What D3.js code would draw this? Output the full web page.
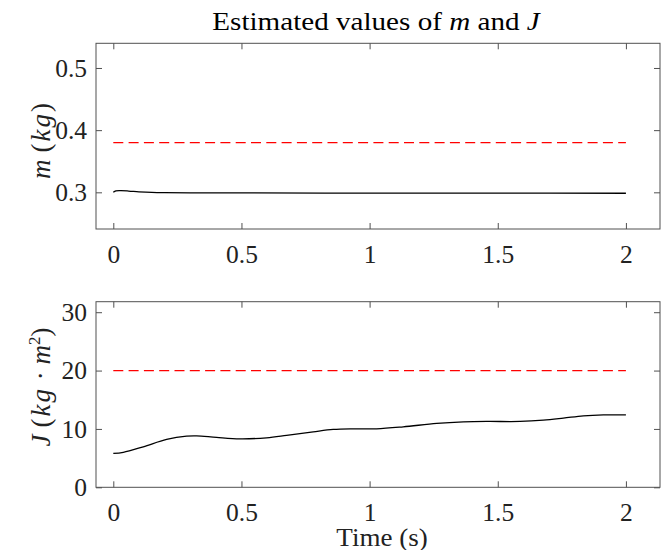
<!DOCTYPE html>
<html><head><meta charset="utf-8">
<script src="https://cdn.jsdelivr.net/npm/d3@7"></script>
<style>body{margin:0;background:#fff}svg{display:block}</style>
</head><body>
<script>
const xTicks = [0, 0.5, 1, 1.5, 2];
const xTickLabels = ["0", "0.5", "1", "1.5", "2"];
const mTicks = [0.3, 0.4, 0.5];
const mTickLabels = ["0.3", "0.4", "0.5"];
const jTicks = [0, 10, 20, 30];
const jTickLabels = ["0", "10", "20", "30"];

const mTime = [0, 0.01, 0.03, 0.06, 0.1, 0.15, 0.2, 0.3, 0.5, 1.0, 1.5, 2.0];
const mEst  = [0.3000, 0.3022, 0.3026, 0.3020, 0.3008, 0.2998, 0.2994, 0.2992, 0.2990, 0.2988, 0.2986, 0.2985];
const mTrue = 0.38;

const jTime = [0, 0.039, 0.117, 0.208, 0.286, 0.325, 0.403, 0.494, 0.598, 0.676, 0.78, 0.858, 0.936, 1.027, 1.131, 1.262, 1.366, 1.457, 1.587, 1.678, 1.756, 1.834, 1.912, 2.0];
const jEst  = [5.8, 5.98, 6.94, 8.2, 8.77, 8.82, 8.55, 8.31, 8.48, 8.89, 9.5, 9.91, 10.02, 10.02, 10.36, 10.94, 11.2, 11.28, 11.28, 11.5, 11.85, 12.24, 12.41, 12.41];
const jTrue = 20;

const W = 668, H = 550;
const svg = d3.select("body").append("svg").attr("width", W).attr("height", H);
const font = "'Liberation Serif', 'Times New Roman', serif";
const axisColor = "#505050";
const tickFont = 25.5;

const x = d3.scaleLinear().domain([-0.0675, 2.133]).range([96, 660]);

function panel(top, bottom, yDomain, ticks, tickLabels, times, est, trueVal) {
  const y = d3.scaleLinear().domain(yDomain).range([bottom, top]);
  const g = svg.append("g");
  g.append("rect").attr("x", 96).attr("y", top).attr("width", 564).attr("height", bottom - top)
    .attr("fill", "none").attr("stroke", axisColor).attr("stroke-width", 1);
  const left = d3.axisLeft(y).tickValues(ticks).tickSize(-6).tickPadding(9).tickFormat((d, i) => tickLabels[i]);
  const right = d3.axisRight(y).tickValues(ticks).tickSize(-6).tickFormat("");
  const bot = d3.axisBottom(x).tickValues(xTicks).tickSize(-6).tickPadding(16).tickFormat((d, i) => xTickLabels[i]);
  const topAx = d3.axisTop(x).tickValues(xTicks).tickSize(-6).tickFormat("");
  const gl = g.append("g").attr("transform", "translate(96,0)").call(left);
  const gr = g.append("g").attr("transform", "translate(660,0)").call(right);
  const gb = g.append("g").attr("transform", `translate(0,${bottom})`).call(bot);
  const gt = g.append("g").attr("transform", `translate(0,${top})`).call(topAx);
  [gl, gr, gb, gt].forEach(a => {
    a.select(".domain").remove();
    a.selectAll(".tick line").attr("stroke", axisColor);
    a.selectAll("text").attr("font-family", font).attr("font-size", tickFont).attr("fill", "#222");
  });
  g.append("line").attr("x1", x(0)).attr("x2", x(2)).attr("y1", y(trueVal)).attr("y2", y(trueVal))
    .attr("stroke", "#ff0000").attr("stroke-width", 1.3).attr("stroke-dasharray", "10,5.3");
  const line = d3.line().x((d, i) => x(times[i])).y(d => y(d)).curve(d3.curveCatmullRom.alpha(0.5));
  g.append("path").datum(est).attr("d", line).attr("fill", "none").attr("stroke", "#000").attr("stroke-width", 1.3);
  return y;
}

panel(43.3, 229, [0.241, 0.5397], mTicks, mTickLabels, mTime, mEst, mTrue);
panel(301.7, 487.3, [0, 31.8], jTicks, jTickLabels, jTime, jEst, jTrue);

// title
const title = svg.append("text").attr("transform", "translate(376,29.5) scale(1.12,1)").attr("text-anchor", "middle")
  .attr("font-family", font).attr("font-size", 26).attr("fill", "#000");
title.append("tspan").text("Estimated values of ");
title.append("tspan").attr("font-style", "italic").text("m");
title.append("tspan").text(" and ");
title.append("tspan").attr("font-style", "italic").text("J");

// y labels
const yl1 = svg.append("text").attr("transform", "translate(50,141) rotate(-90)").attr("text-anchor", "middle")
  .attr("font-family", font).attr("font-size", 27).attr("fill", "#222");
yl1.append("tspan").attr("font-style", "italic").text("m");
yl1.append("tspan").attr("dx", 7).text("(");
yl1.append("tspan").attr("font-style", "italic").attr("dx", 2).attr("letter-spacing", 2).text("kg");
yl1.append("tspan").text(")");

const yl2 = svg.append("text").attr("transform", "translate(50,387) rotate(-90)").attr("text-anchor", "middle")
  .attr("font-family", font).attr("font-size", 27).attr("fill", "#222");
yl2.append("tspan").attr("font-style", "italic").text("J");
yl2.append("tspan").attr("dx", 7).text("(");
yl2.append("tspan").attr("font-style", "italic").attr("dx", 2).attr("letter-spacing", 2).text("kg");
yl2.append("tspan").text(" · ");
yl2.append("tspan").attr("font-style", "italic").text("m");
yl2.append("tspan").attr("font-size", 17).attr("dy", -10).text("2");
yl2.append("tspan").attr("dy", 10).text(")");

// x label
svg.append("text").attr("transform", "translate(382,545.5) scale(1.04,1)").attr("text-anchor", "middle")
  .attr("font-family", font).attr("font-size", 26).attr("fill", "#222").text("Time (s)");
</script>
</body></html>
